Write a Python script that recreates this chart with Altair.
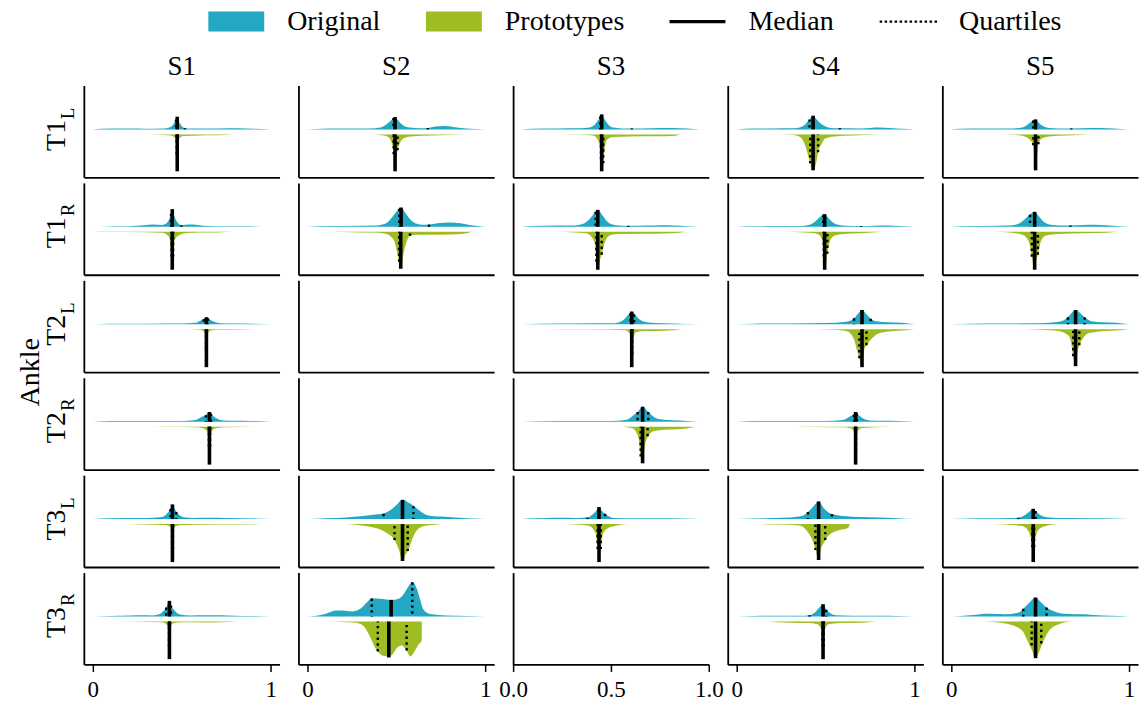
import altair as alt
import pandas as pd

FONT = "Liberation Serif"
BLUE = "#22a8c2"
GREEN = "#9dbd23"

ROWS = ["T1L", "T1R", "T2L", "T2R", "T3L", "T3R"]
ROW_MAIN = ["T1", "T1", "T2", "T2", "T3", "T3"]
ROW_SUB = ["L", "R", "L", "R", "L", "R"]
COLS = ["S1", "S2", "S3", "S4", "S5"]
LEGEND_ITEMS = ["Original", "Prototypes", "Median", "Quartiles"]
TICKS_DEFAULT = [0, 1]
TICKS_EMPTY = [0, 0.5, 1]

# ---- density profiles: (x, height) ----
ORIG_T1L_S1 = [(0, 0), (0.05, 0.6), (0.2, 0.9), (0.3, 0.7), (0.4, 0.9), (0.43, 1.8), (0.45, 4.5), (0.465, 9), (0.475, 12.7), (0.485, 8), (0.5, 3.5), (0.518, 1.2), (0.55, 0.8), (0.7, 1.0), (0.82, 1.1), (0.9, 0.6), (1.0, 0)]
PROTO_T1L_S1 = [(0.33, 0), (0.4, 0.5), (0.44, 1.2), (0.46, 3), (0.468, 8), (0.475, 37), (0.482, 8), (0.49, 3), (0.51, 1.5), (0.6, 1.0), (0.7, 0.8), (0.79, 0)]
ORIG_T1L_S2 = [(0, 0), (0.05, 0.5), (0.2, 0.8), (0.35, 1.0), (0.41, 2), (0.44, 4.5), (0.47, 9), (0.493, 12.3), (0.51, 9), (0.54, 4), (0.58, 1.8), (0.63, 1.2), (0.68, 1.5), (0.72, 2.8), (0.77, 3.3), (0.82, 2.5), (0.88, 1.2), (0.95, 0.5), (1.0, 0)]
PROTO_T1L_S2 = [(0.37, 0), (0.42, 0.8), (0.455, 2.5), (0.475, 9), (0.487, 22), (0.493, 37), (0.5, 22), (0.507, 16), (0.52, 9), (0.54, 4), (0.58, 2), (0.7, 1.0), (0.88, 0)]
ORIG_T1L_S3 = [(0, 0), (0.05, 0.7), (0.2, 1.0), (0.33, 1.2), (0.38, 2), (0.41, 5), (0.43, 10), (0.448, 15), (0.465, 10), (0.49, 4), (0.515, 1.8), (0.56, 1.0), (0.617, 0.9), (0.72, 1.2), (0.85, 1.4), (0.93, 0.8), (1.0, 0)]
PROTO_T1L_S3 = [(0.24, 0), (0.33, 0.4), (0.4, 1.2), (0.425, 5), (0.435, 10), (0.444, 25), (0.448, 37), (0.457, 29), (0.465, 14), (0.48, 5), (0.51, 2.5), (0.6, 2.0), (0.75, 1.8), (0.85, 1.5), (0.89, 0)]
ORIG_T1L_S4 = [(0, 0), (0.05, 0.6), (0.2, 0.9), (0.3, 1.1), (0.355, 2), (0.385, 5), (0.41, 10), (0.43, 13.7), (0.45, 10), (0.48, 5), (0.514, 2), (0.55, 1.2), (0.58, 1.2), (0.7, 1.0), (0.75, 1.5), (0.8, 1.8), (0.86, 1.4), (0.93, 0.6), (1.0, 0)]
PROTO_T1L_S4 = [(0.26, 0), (0.32, 0.7), (0.36, 3), (0.383, 10), (0.4, 20), (0.414, 29), (0.43, 36), (0.448, 28), (0.458, 18), (0.477, 10), (0.5, 4), (0.55, 2), (0.65, 1.2), (0.81, 0)]
ORIG_T1L_S5 = [(0, 0), (0.05, 0.6), (0.2, 0.8), (0.35, 1.0), (0.4, 2), (0.43, 5), (0.455, 8.5), (0.474, 10), (0.49, 7), (0.515, 3.5), (0.55, 1.5), (0.6, 1.0), (0.675, 1.0), (0.79, 1.3), (0.88, 1.1), (0.95, 0.5), (1.0, 0)]
PROTO_T1L_S5 = [(0.3, 0), (0.38, 0.8), (0.42, 2.5), (0.445, 6), (0.461, 11), (0.474, 36), (0.49, 10), (0.51, 4), (0.55, 2), (0.65, 1.2), (0.79, 0)]

ORIG_T1R_S1 = [(0, 0), (0.08, 0.4), (0.2, 0.6), (0.29, 1.5), (0.34, 2.2), (0.39, 1.8), (0.415, 3.5), (0.435, 10), (0.447, 17.7), (0.46, 10), (0.48, 3.5), (0.5, 1.5), (0.54, 2.2), (0.58, 2.0), (0.62, 1.0), (0.7, 0.5), (0.85, 0.5), (1.0, 0)]
PROTO_T1R_S1 = [(0.0, 0), (0.1, 0.3), (0.3, 0.4), (0.39, 1), (0.418, 3), (0.435, 8), (0.447, 38), (0.46, 8), (0.49, 3), (0.53, 1.2), (0.6, 0.8), (0.7, 0.6), (0.79, 0)]
ORIG_T1R_S2 = [(0, 0), (0.05, 0.5), (0.2, 0.8), (0.38, 1.2), (0.437, 3), (0.47, 8), (0.5, 15), (0.527, 19.3), (0.55, 14), (0.58, 7), (0.615, 3), (0.65, 2), (0.684, 2.2), (0.73, 3.5), (0.8, 4.3), (0.86, 3.5), (0.92, 1.5), (1.0, 0)]
PROTO_T1R_S2 = [(0.128, 0), (0.25, 0.4), (0.37, 0.8), (0.44, 2), (0.47, 5), (0.49, 10), (0.506, 22), (0.516, 30), (0.525, 37), (0.54, 22), (0.558, 10), (0.577, 4), (0.62, 3), (0.7, 3), (0.8, 2.8), (0.88, 2), (0.924, 0)]
ORIG_T1R_S3 = [(0, 0), (0.05, 0.8), (0.2, 1.2), (0.3, 1.4), (0.336, 2.5), (0.37, 6), (0.4, 12), (0.426, 17), (0.45, 12), (0.475, 6), (0.504, 2.5), (0.55, 1.2), (0.598, 1.0), (0.7, 1.2), (0.78, 1.6), (0.85, 1.4), (0.93, 0.6), (1.0, 0)]
PROTO_T1R_S3 = [(0.195, 0), (0.3, 0.6), (0.36, 1.5), (0.39, 5), (0.41, 12), (0.418, 30), (0.426, 38), (0.44, 27), (0.448, 23), (0.467, 10), (0.49, 4), (0.52, 2.5), (0.6, 2.2), (0.75, 2), (0.85, 1.5), (0.92, 0)]
ORIG_T1R_S4 = [(0, 0), (0.05, 0.5), (0.2, 0.7), (0.35, 0.8), (0.41, 2), (0.44, 5), (0.47, 10), (0.495, 12.7), (0.515, 9), (0.54, 4.5), (0.57, 2), (0.62, 1.0), (0.7, 0.8), (0.77, 1.1), (0.83, 1.3), (0.88, 1.0), (0.95, 0.5), (1.0, 0)]
PROTO_T1R_S4 = [(0.28, 0), (0.38, 0.6), (0.44, 1.5), (0.47, 4), (0.485, 12), (0.49, 25), (0.495, 38), (0.51, 22), (0.525, 9), (0.55, 4), (0.6, 2.2), (0.7, 1.5), (0.82, 0)]
ORIG_T1R_S5 = [(0, 0), (0.05, 0.6), (0.2, 0.9), (0.32, 1.2), (0.372, 2.5), (0.41, 7), (0.443, 12.5), (0.469, 15), (0.49, 11), (0.52, 5), (0.56, 2), (0.62, 1.2), (0.67, 1.3), (0.74, 1.8), (0.8, 2), (0.87, 1.5), (0.95, 0.5), (1.0, 0)]
PROTO_T1R_S5 = [(0.24, 0), (0.33, 0.8), (0.4, 3), (0.437, 10), (0.453, 25), (0.469, 38), (0.48, 27), (0.489, 22), (0.503, 10), (0.53, 4), (0.6, 2.2), (0.75, 1.5), (0.87, 1), (0.94, 0)]

ORIG_T2L_S1 = [(0, 0), (0.1, 0.5), (0.3, 0.6), (0.5, 0.7), (0.578, 1.5), (0.61, 4), (0.624, 5.5), (0.639, 7), (0.66, 4.5), (0.69, 2), (0.72, 1.0), (0.8, 0.8), (0.9, 0.6), (1.0, 0)]
PROTO_T2L_S1 = [(0.55, 0), (0.6, 0.5), (0.62, 1.5), (0.632, 5), (0.639, 38), (0.646, 5), (0.66, 1.5), (0.7, 0.6), (0.8, 0.4), (0.95, 0)]
ORIG_T2L_S3 = [(0, 0), (0.1, 0.5), (0.3, 0.7), (0.5, 0.9), (0.542, 1.8), (0.575, 5), (0.6, 10), (0.617, 12.7), (0.635, 9.5), (0.66, 5), (0.7, 2), (0.75, 1.2), (0.85, 0.8), (1.0, 0)]
PROTO_T2L_S3 = [(0.15, 0), (0.3, 0.3), (0.5, 0.5), (0.58, 1), (0.6, 3), (0.612, 10), (0.617, 38), (0.625, 10), (0.64, 3), (0.7, 1.8), (0.8, 1.5), (0.9, 0)]
ORIG_T2L_S4 = [(0, 0), (0.1, 0.6), (0.3, 0.8), (0.5, 1.2), (0.617, 2.5), (0.66, 6), (0.69, 12), (0.705, 14.3), (0.73, 10), (0.754, 5.5), (0.785, 3), (0.85, 2), (0.93, 1.5), (1.0, 0)]
PROTO_T2L_S4 = [(0.44, 0), (0.55, 0.6), (0.62, 2), (0.66, 10), (0.675, 20), (0.69, 29), (0.705, 38), (0.718, 20), (0.73, 16), (0.757, 10), (0.8, 4), (0.87, 2), (0.95, 1), (1.0, 0)]
ORIG_T2L_S5 = [(0, 0), (0.1, 0.6), (0.3, 0.8), (0.5, 1.0), (0.605, 2.5), (0.656, 7), (0.68, 12), (0.699, 14.3), (0.72, 12), (0.75, 7), (0.79, 3), (0.85, 2), (0.93, 1.5), (1.0, 0)]
PROTO_T2L_S5 = [(0.4, 0), (0.5, 0.5), (0.6, 1.8), (0.657, 6), (0.67, 10), (0.686, 27), (0.699, 37), (0.71, 22), (0.72, 16), (0.737, 10), (0.77, 4), (0.85, 2), (0.95, 1), (1.0, 0)]

ORIG_T2R_S1 = [(0, 0), (0.1, 0.6), (0.3, 0.7), (0.5, 0.8), (0.578, 1.8), (0.61, 4.5), (0.637, 7), (0.656, 9.7), (0.675, 6), (0.7, 3), (0.737, 1.2), (0.8, 1.0), (0.88, 0.8), (1.0, 0)]
PROTO_T2R_S1 = [(0.34, 0), (0.45, 0.3), (0.58, 0.6), (0.62, 1.5), (0.645, 5), (0.656, 38), (0.667, 5), (0.69, 1.5), (0.75, 0.6), (0.94, 0)]
ORIG_T2R_S3 = [(0, 0), (0.1, 0.5), (0.3, 0.6), (0.5, 0.8), (0.589, 2), (0.63, 7), (0.65, 9.7), (0.678, 15), (0.71, 9.7), (0.74, 5), (0.776, 2.5), (0.85, 1.5), (0.93, 0.8), (1.0, 0)]
PROTO_T2R_S3 = [(0.56, 0), (0.62, 1.5), (0.654, 10), (0.667, 30), (0.678, 36.7), (0.69, 20), (0.71, 9.3), (0.74, 4.5), (0.8, 3), (0.88, 2.5), (0.95, 1), (0.97, 0)]
ORIG_T2R_S4 = [(0, 0), (0.1, 0.6), (0.3, 0.7), (0.5, 0.8), (0.598, 1.8), (0.635, 5), (0.66, 8), (0.669, 9.7), (0.69, 6), (0.72, 2.5), (0.748, 1.3), (0.82, 0.9), (0.9, 0.7), (1.0, 0)]
PROTO_T2R_S4 = [(0.33, 0), (0.45, 0.3), (0.6, 0.7), (0.64, 1.5), (0.66, 5), (0.669, 38.3), (0.678, 5), (0.7, 1.5), (0.75, 0.8), (0.88, 0)]

ORIG_T3L_S1 = [(0, 0), (0.1, 0.8), (0.3, 1.0), (0.39, 2), (0.42, 6), (0.437, 10.5), (0.448, 14.7), (0.46, 11), (0.47, 7.5), (0.49, 3.5), (0.512, 1.8), (0.57, 1.2), (0.65, 1.3), (0.75, 1.0), (0.9, 0.6), (1.0, 0)]
PROTO_T3L_S1 = [(0.07, 0), (0.3, 0.3), (0.4, 0.8), (0.43, 2), (0.442, 6), (0.448, 38), (0.455, 6), (0.47, 2), (0.5, 0.8), (0.7, 0.4), (1.0, 0)]
ORIG_T3L_S2 = [(0, 0), (0.1, 0.8), (0.22, 1.7), (0.3, 2.8), (0.37, 4.3), (0.428, 5.5), (0.475, 10), (0.505, 15), (0.535, 19.3), (0.565, 17), (0.596, 13.5), (0.634, 8), (0.67, 4), (0.71, 2.8), (0.75, 2.5), (0.8, 2.2), (0.86, 1.3), (0.93, 0.6), (1.0, 0)]
PROTO_T3L_S2 = [(0.22, 0), (0.306, 1.3), (0.36, 3), (0.41, 5.5), (0.446, 9), (0.49, 16), (0.515, 26), (0.535, 37), (0.55, 31), (0.565, 27), (0.58, 20), (0.605, 9), (0.63, 4), (0.67, 1.5), (0.72, 0.6), (0.75, 0)]
ORIG_T3L_S3 = [(0, 0), (0.08, 0.8), (0.14, 1.2), (0.22, 1.3), (0.31, 1.1), (0.368, 1.5), (0.4, 5), (0.42, 9), (0.433, 12), (0.45, 8), (0.467, 5.3), (0.49, 2.5), (0.514, 1.2), (0.6, 0.8), (0.75, 0.8), (0.9, 0.5), (1.0, 0)]
PROTO_T3L_S3 = [(0.205, 0), (0.3, 0.4), (0.37, 1.5), (0.4, 5), (0.415, 10), (0.425, 25), (0.433, 38), (0.443, 25), (0.455, 10), (0.476, 5), (0.52, 2), (0.6, 0)]
ORIG_T3L_S4 = [(0, 0), (0.1, 0.7), (0.2, 1.2), (0.3, 1.7), (0.37, 3.3), (0.401, 7), (0.43, 12.5), (0.461, 17.7), (0.49, 11), (0.536, 5), (0.6, 3), (0.7, 2), (0.8, 1.5), (0.9, 0.8), (1.0, 0)]
PROTO_T3L_S4 = [(0.13, 0), (0.25, 0.5), (0.355, 1.3), (0.4, 8), (0.43, 18), (0.443, 25), (0.461, 36), (0.47, 28), (0.496, 17), (0.52, 11), (0.58, 6), (0.626, 4), (0.636, 0)]
ORIG_T3L_S5 = [(0, 0), (0.1, 0.7), (0.25, 0.8), (0.33, 1.0), (0.377, 1.3), (0.4, 2.5), (0.43, 6), (0.461, 10.3), (0.474, 8), (0.5, 4), (0.54, 1.8), (0.6, 1.0), (0.75, 0.8), (0.9, 0.5), (1.0, 0)]
PROTO_T3L_S5 = [(0.22, 0), (0.33, 0.6), (0.4, 2), (0.43, 6), (0.448, 15), (0.461, 38), (0.472, 15), (0.49, 6), (0.53, 2), (0.605, 0)]

ORIG_T3R_S1 = [(0, 0), (0.1, 0.6), (0.21, 1.0), (0.28, 1.2), (0.33, 1.0), (0.37, 2), (0.395, 5), (0.413, 9), (0.431, 15.7), (0.44, 11), (0.46, 6), (0.49, 2), (0.55, 1.0), (0.62, 1.2), (0.72, 1.2), (0.8, 0.8), (0.9, 0.5), (1.0, 0)]
PROTO_T3R_S1 = [(0.09, 0), (0.25, 0.3), (0.38, 0.8), (0.41, 2), (0.425, 7), (0.431, 37.7), (0.437, 7), (0.45, 2), (0.5, 0.8), (0.62, 1.0), (0.72, 0.8), (0.81, 0)]
ORIG_T3R_S2 = [(0, 0), (0.05, 0.8), (0.1, 2.5), (0.16, 6), (0.2, 6), (0.25, 5), (0.3, 8), (0.334, 14), (0.362, 18.3), (0.41, 17.7), (0.47, 16.5), (0.512, 17.7), (0.54, 22), (0.568, 30), (0.59, 34.5), (0.615, 28), (0.634, 17), (0.652, 7), (0.69, 2.5), (0.78, 1), (0.9, 0.5), (1.0, 0)]
PROTO_T3R_S2 = [(0.138, 0), (0.2, 0.5), (0.26, 1), (0.306, 3), (0.334, 9), (0.362, 19), (0.38, 26), (0.396, 30), (0.43, 34.5), (0.455, 35), (0.483, 32), (0.505, 26), (0.531, 24), (0.558, 29), (0.578, 35), (0.605, 29), (0.625, 23), (0.643, 19), (0.6435, 0)]
ORIG_T3R_S4 = [(0, 0), (0.1, 0.6), (0.25, 0.8), (0.35, 0.8), (0.41, 1.3), (0.44, 4), (0.465, 9), (0.486, 12.3), (0.504, 7), (0.53, 3), (0.56, 1.3), (0.65, 0.8), (0.8, 0.7), (0.9, 0.5), (1.0, 0)]
PROTO_T3R_S4 = [(0.17, 0), (0.3, 1.2), (0.4, 1.5), (0.45, 2.5), (0.472, 6), (0.481, 15), (0.486, 37.7), (0.492, 15), (0.5, 6), (0.52, 2.5), (0.6, 1.5), (0.7, 1.2), (0.785, 0)]
ORIG_T3R_S5 = [(0, 0), (0.07, 0.7), (0.14, 1.8), (0.2, 2.7), (0.25, 2.5), (0.3, 2.3), (0.38, 4), (0.405, 7.7), (0.44, 14), (0.474, 19), (0.5, 15), (0.536, 9), (0.58, 5), (0.62, 3), (0.66, 2.5), (0.74, 2.2), (0.8, 1.5), (0.9, 0.7), (1.0, 0)]
PROTO_T3R_S5 = [(0.175, 0), (0.25, 0.8), (0.325, 2.7), (0.4, 9.3), (0.428, 19), (0.452, 28), (0.474, 36.7), (0.497, 29), (0.52, 19), (0.55, 9.3), (0.605, 2.7), (0.68, 0)]

# ---- quartiles / medians: row, col, q1, h(q1), median, h(median), q3, h(q3) ----
ORIG_STATS = [
    ("T1L", "S1", 0.468, 10, 0.475, 12.7, 0.518, 1.2),
    ("T1L", "S2", 0.484, 11.5, 0.493, 12.3, 0.677, 1.4),
    ("T1L", "S3", 0.440, 13, 0.448, 15, 0.617, 1.0),
    ("T1L", "S4", 0.410, 10, 0.430, 13.7, 0.580, 1.2),
    ("T1L", "S5", 0.461, 9, 0.474, 10, 0.675, 1.0),
    ("T1R", "S1", 0.440, 13, 0.447, 17.7, 0.498, 1.5),
    ("T1R", "S2", 0.516, 18, 0.527, 19.3, 0.684, 2.2),
    ("T1R", "S3", 0.414, 15, 0.426, 17, 0.598, 1.0),
    ("T1R", "S4", 0.487, 12, 0.495, 12.7, 0.700, 0.8),
    ("T1R", "S5", 0.443, 12, 0.469, 15, 0.670, 1.3),
    ("T2L", "S1", 0.624, 5, 0.639, 7, 0.648, 6),
    ("T2L", "S3", 0.610, 11, 0.617, 12.7, 0.630, 10),
    ("T2L", "S4", 0.660, 6, 0.705, 14.3, 0.754, 5.5),
    ("T2L", "S5", 0.656, 7, 0.699, 14.3, 0.750, 7),
    ("T2R", "S1", 0.637, 6.5, 0.656, 9.7, 0.665, 8),
    ("T2R", "S3", 0.650, 9.7, 0.678, 15, 0.710, 9.7),
    ("T2R", "S4", 0.660, 7, 0.669, 9.7, 0.675, 8.5),
    ("T3L", "S1", 0.437, 10, 0.448, 14.7, 0.470, 7),
    ("T3L", "S2", 0.428, 5.3, 0.535, 19.3, 0.596, 13),
    ("T3L", "S3", 0.368, 1.5, 0.433, 12, 0.467, 5.3),
    ("T3L", "S4", 0.401, 7, 0.461, 17.7, 0.536, 5),
    ("T3L", "S5", 0.377, 1.3, 0.461, 10.3, 0.474, 8),
    ("T3R", "S1", 0.413, 9, 0.431, 15.7, 0.440, 11),
    ("T3R", "S2", 0.362, 18, 0.471, 16.7, 0.590, 34.3),
    ("T3R", "S4", 0.410, 1.3, 0.486, 12.3, 0.504, 6.7),
    ("T3R", "S5", 0.405, 7.7, 0.474, 19, 0.536, 9),
]
PROTO_STATS = [
    ("T1L", "S1", 0.472, 20, 0.475, 37, 0.478, 20),
    ("T1L", "S2", 0.485, 20, 0.493, 37, 0.507, 16),
    ("T1L", "S3", 0.444, 25, 0.448, 37, 0.457, 29),
    ("T1L", "S4", 0.414, 29, 0.430, 36, 0.458, 18),
    ("T1L", "S5", 0.461, 11, 0.474, 36, 0.490, 10),
    ("T1R", "S1", 0.444, 25, 0.447, 38, 0.452, 25),
    ("T1R", "S2", 0.516, 30, 0.525, 37, 0.577, 4),
    ("T1R", "S3", 0.418, 30, 0.426, 38, 0.448, 23),
    ("T1R", "S4", 0.490, 25, 0.495, 38, 0.510, 22),
    ("T1R", "S5", 0.453, 25, 0.469, 38, 0.487, 23),
    ("T2L", "S1", 0.637, 20, 0.639, 38, 0.641, 20),
    ("T2L", "S3", 0.615, 25, 0.617, 38, 0.620, 25),
    ("T2L", "S4", 0.690, 29, 0.705, 38, 0.730, 16),
    ("T2L", "S5", 0.686, 27, 0.699, 37, 0.720, 16),
    ("T2R", "S1", 0.653, 20, 0.656, 38, 0.660, 20),
    ("T2R", "S3", 0.667, 30, 0.678, 36.7, 0.706, 9.5),
    ("T2R", "S4", 0.667, 25, 0.669, 38, 0.671, 25),
    ("T3L", "S1", 0.446, 25, 0.448, 38, 0.451, 25),
    ("T3L", "S2", 0.490, 16, 0.535, 37, 0.564, 27),
    ("T3L", "S3", 0.425, 25, 0.433, 38, 0.443, 25),
    ("T3L", "S4", 0.443, 26, 0.461, 36, 0.498, 16),
    ("T3L", "S5", 0.456, 23, 0.461, 38, 0.466, 23),
    ("T3R", "S1", 0.429, 25, 0.431, 37.7, 0.433, 25),
    ("T3R", "S2", 0.396, 30, 0.458, 36, 0.558, 29),
    ("T3R", "S4", 0.483, 25, 0.486, 37.7, 0.490, 25),
    ("T3R", "S5", 0.452, 24, 0.474, 36.7, 0.506, 22),
]

# ---- layout constants ----
PANEL_W, PANEL_H = 196, 92
BLUE_BASE, GREEN_BASE = 48.0, 43.0

# ---- build tables ----
prof_rows = []
for r in ROWS:
    for c in COLS:
        for side, prefix in (("orig", "ORIG"), ("proto", "PROTO")):
            prof = globals().get(f"{prefix}_{r}_{c}")
            if prof is None:
                continue
            for x, h in prof:
                if side == "orig":
                    prof_rows.append(dict(row=r, col=c, side=side, x=x, y=BLUE_BASE + h, y0=BLUE_BASE))
                else:
                    prof_rows.append(dict(row=r, col=c, side=side, x=x, y=GREEN_BASE - h, y0=GREEN_BASE))
PROF = pd.DataFrame(prof_rows)

stat_rows = []
for side, table in (("orig", ORIG_STATS), ("proto", PROTO_STATS)):
    for r, c, q1, h1, md, hm, q3, h3 in table:
        base = BLUE_BASE if side == "orig" else GREEN_BASE
        sgn = 1 if side == "orig" else -1
        stat_rows.append(dict(row=r, col=c, side=side, kind="quartile", x=q1, y=base + sgn * h1, y0=base))
        stat_rows.append(dict(row=r, col=c, side=side, kind="median", x=md, y=base + sgn * hm, y0=base))
        stat_rows.append(dict(row=r, col=c, side=side, kind="quartile", x=q3, y=base + sgn * h3, y0=base))
STATS = pd.DataFrame(stat_rows)

# legend symbols (custom paths)
RECT_PATH = "M-2.8,-1H2.8V1H-2.8Z"
LINE_PATH = "M-2.8,-0.17H2.8V0.17H-2.8Z"
DOTS_PATH = " ".join(
    f"M{-2.85 + 0.5 * k:.2f},-0.12h0.25v0.24h-0.25Z" for k in range(12)
)


def text_layer(label, size, x, y):
    return alt.Chart(pd.DataFrame({"t": [label]})).mark_text(
        angle=270, font=FONT, fontSize=size, align="center", baseline="middle", color="black"
    ).encode(text="t:N", x=alt.value(x), y=alt.value(y))


def panel(ri, ci):
    r, c = ROWS[ri], COLS[ci]
    bottom = ri == len(ROWS) - 1
    empty_default = (r, c) == ("T3R", "S3")
    dom = [0, 1] if empty_default else [-0.05, 1.05]
    xscale = alt.Scale(domain=dom, nice=False, zero=False)
    yscale = alt.Scale(domain=[0, PANEL_H], nice=False, zero=False)
    if bottom:
        xaxis = alt.Axis(
            values=TICKS_EMPTY if empty_default else TICKS_DEFAULT,
            format=".1f" if empty_default else "d",
            title=None, grid=False, domainColor="black", domainWidth=1.8,
            ticks=True, tickSize=7, tickWidth=1.5, tickColor="black",
            labels=True, labelFont=FONT, labelFontSize=23, labelColor="black",
            labelPadding=7, labelFlush=False,
        )
    else:
        xaxis = alt.Axis(title=None, grid=False, domainColor="black", domainWidth=1.8,
                         ticks=False, labels=False)
    yaxis = alt.Axis(title=None, grid=False, domainColor="black", domainWidth=1.8,
                     ticks=False, labels=False)

    X = alt.X("x:Q", scale=xscale, axis=xaxis)
    Y = alt.Y("y:Q", scale=yscale, axis=yaxis)

    sel = f"datum.row == '{r}' && datum.col == '{c}'"
    base_p = alt.Chart(PROF).transform_filter(sel)
    orig = base_p.transform_filter("datum.side == 'orig'").mark_area(
        color=BLUE, interpolate="monotone", orient="vertical").encode(x=X, y=Y, y2="y0:Q")
    proto = base_p.transform_filter("datum.side == 'proto'").mark_area(
        color=GREEN, interpolate="monotone", orient="vertical").encode(x=X, y=Y, y2="y0:Q")
    base_s = alt.Chart(STATS).transform_filter(sel)
    med = base_s.transform_filter("datum.kind == 'median'").mark_rule(
        color="black", strokeWidth=3.6, strokeCap="butt").encode(x=X, y=Y, y2="y0:Q")
    qrt = base_s.transform_filter("datum.kind == 'quartile'").mark_rule(
        color="black", strokeWidth=2.4, strokeDash=[2.4, 3.4], strokeCap="butt").encode(x=X, y=Y, y2="y0:Q")
    layers = [orig, proto, qrt, med]

    if ci == 0:
        layers.append(text_layer(ROW_MAIN[ri], 28, -26.5, 50))
        layers.append(text_layer(ROW_SUB[ri], 19, -16, 28 if ROW_SUB[ri] == "L" else 27))
    if ri == 2 and ci == 0:
        layers.append(text_layer("Ankle", 28, -53, 92))
    if ri == 0:
        layers.append(
            alt.Chart(pd.DataFrame({"t": [c]})).mark_text(
                font=FONT, fontSize=27, align="center", baseline="middle", color="black"
            ).encode(text="t:N", x=alt.value(PANEL_W / 2), y=alt.value(-18))
        )
    if ri == 0 and ci == 0:
        leg = alt.Legend(
            title=None, orient="none", legendX=138.7, legendY=-78, direction="horizontal",
            symbolSize=400, symbolOpacity=1, symbolStrokeWidth=0,
            labelFont=FONT, labelFontSize=28, labelColor="black", labelOffset=37,
            columnPadding=45, labelLimit=400,
        )
        dummy = alt.Chart(pd.DataFrame({"item": LEGEND_ITEMS})).mark_point(
            filled=True, opacity=0
        ).encode(
            x=alt.value(0), y=alt.value(0),
            color=alt.Color("item:N", scale=alt.Scale(domain=LEGEND_ITEMS, range=[BLUE, GREEN, "black", "black"]), legend=leg),
            shape=alt.Shape("item:N", scale=alt.Scale(domain=LEGEND_ITEMS, range=[RECT_PATH, RECT_PATH, LINE_PATH, DOTS_PATH]), legend=leg),
        )
        layers.append(dummy)

    return alt.layer(*layers).properties(width=PANEL_W, height=PANEL_H)


charts = [panel(ri, ci) for ri in range(len(ROWS)) for ci in range(len(COLS))]

chart = alt.concat(
    *charts, columns=5, spacing={"row": 5.6, "column": 19}, bounds="flush"
).configure_view(strokeWidth=0).properties(
    background="white",
    padding={"left": 17, "top": 7, "right": 2, "bottom": 2},
)

chart.save("out.html", embed_options={"renderer": "svg", "actions": False})
